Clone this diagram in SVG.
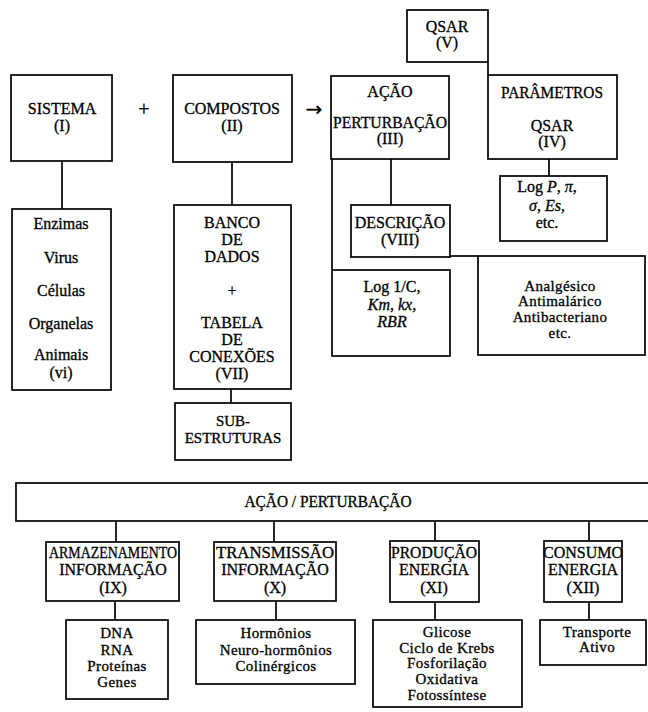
<svg xmlns="http://www.w3.org/2000/svg" width="648" height="712" viewBox="0 0 648 712">
<style>
.box{fill:none;stroke:#000;stroke-width:1.7}
.ln{fill:none;stroke:#000;stroke-width:1.7}
text{font-family:"Liberation Serif","Times New Roman",serif;font-size:16px;text-anchor:middle;fill:#000;stroke:#000;stroke-width:0.3}
.s{font-size:15px;letter-spacing:0.4px}
.i{font-style:italic}
.op{font-size:20px}
.ar{font-family:"DejaVu Sans",sans-serif;font-size:20px}
</style>
<rect width="648" height="712" fill="#fff"/>
<g id="connectors">
<line class="ln" x1="62" y1="161" x2="62" y2="209"/>
<line class="ln" x1="232" y1="162" x2="232" y2="205"/>
<line class="ln" x1="231" y1="389" x2="231" y2="403"/>
<line class="ln" x1="488" y1="62" x2="488" y2="75"/>
<line class="ln" x1="549" y1="159" x2="549" y2="176"/>
<line class="ln" x1="391" y1="159" x2="391" y2="205"/>
<line class="ln" x1="332" y1="159" x2="332" y2="270"/>
<line class="ln" x1="450" y1="256" x2="478" y2="256"/>
<line class="ln" x1="116" y1="521" x2="116" y2="542"/>
<line class="ln" x1="274" y1="521" x2="274" y2="542"/>
<line class="ln" x1="435" y1="521" x2="435" y2="541"/>
<line class="ln" x1="589" y1="521" x2="589" y2="541"/>
<line class="ln" x1="115" y1="601" x2="115" y2="620"/>
<line class="ln" x1="276" y1="601" x2="276" y2="620"/>
<line class="ln" x1="435" y1="602" x2="435" y2="620"/>
<line class="ln" x1="589" y1="602" x2="589" y2="620"/>
</g>
<g id="ops">
<text class="op" x="144" y="116">+</text>
<text class="ar" x="314" y="116">→</text>
</g>
<g id="sistema">
<rect class="box" x="11" y="75" width="101" height="86"/>
<text x="62" y="114">SISTEMA</text>
<text x="62" y="131">(I)</text>
</g>
<g id="compostos">
<rect class="box" x="173" y="75" width="119" height="87"/>
<text x="232" y="114">COMPOSTOS</text>
<text x="232" y="131">(II)</text>
</g>
<g id="qsar-v">
<rect class="box" x="407" y="10" width="81" height="52"/>
<text x="447" y="32">QSAR</text>
<text x="447" y="48">(V)</text>
</g>
<g id="acao">
<rect class="box" x="331" y="76" width="118" height="83"/>
<text x="390" y="97">AÇÃO</text>
<text x="390" y="128" textLength="114" lengthAdjust="spacingAndGlyphs">PERTURBAÇÃO</text>
<text x="390" y="144">(III)</text>
</g>
<g id="parametros">
<rect class="box" x="488" y="75" width="129" height="84"/>
<text x="552" y="98" textLength="102" lengthAdjust="spacingAndGlyphs">PARÂMETROS</text>
<text x="552" y="131">QSAR</text>
<text x="552" y="147">(IV)</text>
</g>
<g id="logp">
<rect class="box" x="500" y="176" width="107" height="65"/>
<text x="547" y="192">Log <tspan class="i">P</tspan>,  <tspan class="i">π</tspan>,</text>
<text x="547" y="211"><tspan class="i">σ</tspan>,  <tspan class="i">Es</tspan>,</text>
<text x="547" y="228">etc.</text>
</g>
<g id="descricao">
<rect class="box" x="351" y="205" width="99" height="52"/>
<text x="400" y="228">DESCRIÇÃO</text>
<text x="400" y="245">(VIII)</text>
</g>
<g id="log1c">
<rect class="box" x="332" y="270" width="118" height="86"/>
<text x="392" y="292">Log 1/C,</text>
<text x="392" y="310" class="i">Km, kx,</text>
<text x="392" y="327" class="i">RBR</text>
</g>
<g id="analgesico">
<rect class="box" x="478" y="256" width="167" height="99"/>
<text class="s" x="560" y="291">Analgésico</text>
<text class="s" x="560" y="306">Antimalárico</text>
<text class="s" x="560" y="322">Antibacteriano</text>
<text class="s" x="560" y="338">etc.</text>
</g>
<g id="enzimas">
<rect class="box" x="12" y="209" width="99" height="181"/>
<text x="61" y="229">Enzimas</text>
<text x="61" y="263">Virus</text>
<text x="61" y="296">Células</text>
<text x="61" y="329">Organelas</text>
<text x="61" y="360">Animais</text>
<text x="61" y="378">(vi)</text>
</g>
<g id="banco">
<rect class="box" x="174" y="205" width="117" height="184"/>
<text x="232" y="228">BANCO</text>
<text x="232" y="245">DE</text>
<text x="232" y="262">DADOS</text>
<text x="232" y="296">+</text>
<text x="232" y="328">TABELA</text>
<text x="232" y="345">DE</text>
<text x="232" y="362">CONEXÕES</text>
<text x="232" y="379">(VII)</text>
</g>
<g id="subestruturas">
<rect class="box" x="175" y="403" width="116" height="57"/>
<text class="s" x="233" y="426" style="letter-spacing:0">SUB-</text>
<text class="s" x="233" y="443" style="letter-spacing:0">ESTRUTURAS</text>
</g>
<g id="acao-perturbacao">
<rect class="box" x="16" y="483" width="650" height="38"/>
<text x="328" y="507" textLength="167" lengthAdjust="spacingAndGlyphs">AÇÃO / PERTURBAÇÃO</text>
</g>
<g id="armazenamento">
<rect class="box" x="46" y="542" width="133" height="59"/>
<text x="113" y="558" textLength="128" lengthAdjust="spacingAndGlyphs">ARMAZENAMENTO</text>
<text x="113" y="575">INFORMAÇÃO</text>
<text x="113" y="593">(IX)</text>
</g>
<g id="transmissao">
<rect class="box" x="214" y="542" width="122" height="59"/>
<text x="275" y="558" textLength="118" lengthAdjust="spacingAndGlyphs">TRANSMISSÃO</text>
<text x="275" y="575">INFORMAÇÃO</text>
<text x="275" y="593">(X)</text>
</g>
<g id="producao">
<rect class="box" x="390" y="541" width="89" height="61"/>
<text x="434" y="558" textLength="86" lengthAdjust="spacingAndGlyphs">PRODUÇÃO</text>
<text x="434" y="575">ENERGIA</text>
<text x="434" y="593">(XI)</text>
</g>
<g id="consumo">
<rect class="box" x="544" y="541" width="78" height="61"/>
<text x="583" y="558">CONSUMO</text>
<text x="583" y="575">ENERGIA</text>
<text x="583" y="593">(XII)</text>
</g>
<g id="dna">
<rect class="box" x="66" y="620" width="102" height="79"/>
<text class="s" x="117" y="638">DNA</text>
<text class="s" x="117" y="655">RNA</text>
<text class="s" x="117" y="671">Proteínas</text>
<text class="s" x="117" y="687">Genes</text>
</g>
<g id="hormonios">
<rect class="box" x="196" y="620" width="159" height="64"/>
<text class="s" x="276" y="638">Hormônios</text>
<text class="s" x="276" y="655">Neuro-hormônios</text>
<text class="s" x="276" y="671">Colinérgicos</text>
</g>
<g id="glicose">
<rect class="box" x="373" y="620" width="149" height="87"/>
<text class="s" x="447" y="637">Glicose</text>
<text class="s" x="447" y="653">Ciclo de Krebs</text>
<text class="s" x="447" y="668">Fosforilação</text>
<text class="s" x="447" y="684">Oxidativa</text>
<text class="s" x="447" y="700">Fotossíntese</text>
</g>
<g id="transporte">
<rect class="box" x="540" y="620" width="106" height="45"/>
<text class="s" x="597" y="637">Transporte</text>
<text class="s" x="597" y="652">Ativo</text>
</g>
</svg>
